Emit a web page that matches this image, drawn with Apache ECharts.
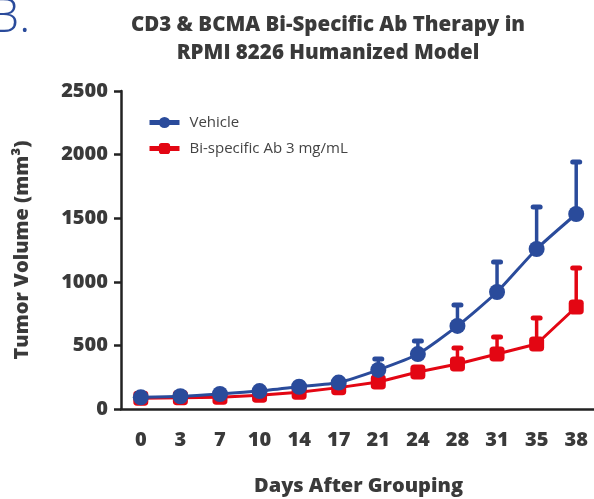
<!DOCTYPE html>
<html><head><meta charset="utf-8">
<script src="https://cdn.jsdelivr.net/npm/echarts@6/dist/echarts.min.js"></script>
<style>html,body{margin:0;padding:0;background:#fff}#c{width:594px;height:499px}</style>
</head><body><div id="c"></div>
<script>
const days = ['0','3','7','10','14','17','21','24','28','31','35','38'];
const vehicleMean = [92, 100, 118, 141, 175, 208, 307, 432, 653, 920, 1258, 1533];
const vehicleTop  = [null, null, null, null, null, null, 393, 535, 818, 1156, 1588, 1942];
const bsabMean = [85, 88, 92, 108, 132, 168, 212, 291, 354, 432, 511, 802];
const bsabTop  = [null, null, null, null, null, null, null, null, 480, 566, 715, 1108];
const yTicks = [0, 500, 1000, 1500, 2000, 2500];

const BLUE = '#2a4b9b', RED = '#e30613', DARK = '#3a3a3a';
const FONT = '"Open Sans", sans-serif';

function errData(mean, top){
  const out = [];
  mean.forEach((m,i)=>{ if(top[i]!=null) out.push([i, m, top[i]]); });
  return out;
}
function errSeries(name, color, data){
  return {
    type:'custom', name: name, z: 3, silent:true,
    data: data,
    renderItem: function(params, api){
      const p0 = api.coord([api.value(0), api.value(1)]);
      const p1 = api.coord([api.value(0), api.value(2)]);
      return {type:'group', children:[
        {type:'line', shape:{x1:p0[0], y1:p0[1], x2:p1[0], y2:p1[1]}, style:{stroke:color, lineWidth:3.5}},
        {type:'rect', shape:{x:p1[0]-6, y:p1[1]-2.5, width:12, height:5, r:2.5}, style:{fill:color}}
      ]};
    }
  };
}

const chart = echarts.init(document.getElementById('c'));
chart.setOption({
  animation:false,
  title:{
    text:'CD3 & BCMA Bi-Specific Ab Therapy in\nRPMI 8226 Humanized Model',
    left:323, top:6, textAlign:'center',
    textStyle:{fontFamily:FONT, fontWeight:800, fontSize:20.5, color:DARK, lineHeight:28}
  },
  graphic:[{type:'text', left:-11, top:-6, style:{text:'B.', font:'300 48px "Open Sans", sans-serif', fill:BLUE}}],
  legend:{
    left:142, top:110, orient:'vertical', itemWidth:30, itemHeight:14, itemGap:11,
    lineStyle:{width:5},
    data:[{name:'Vehicle'},{name:'Bi-specific Ab 3 mg/mL'}],
    textStyle:{fontFamily:FONT, fontSize:15, color:'#444', padding:[0,0,0,5]}
  },
  grid:{left:121, top:91, width:475, height:318, containLabel:false, outerBoundsMode:'none'},
  xAxis:{
    type:'category', data:days, boundaryGap:true,
    name:'Days After Grouping', nameLocation:'middle', nameGap:67,
    nameTextStyle:{fontFamily:FONT, fontWeight:800, fontSize:20, color:DARK},
    axisLine:{lineStyle:{color:'#222', width:2.5}},
    axisTick:{alignWithLabel:true, length:7, lineStyle:{color:'#222', width:2.5}},
    axisLabel:{fontFamily:FONT, fontWeight:800, fontSize:20, color:DARK, margin:21}
  },
  yAxis:{
    type:'value', min:0, max:2500, interval:500,
    name:'Tumor Volume (mm³)', nameLocation:'middle', nameGap:89, nameRotate:90,
    nameTextStyle:{fontFamily:FONT, fontWeight:800, fontSize:20, color:DARK},
    axisLine:{show:true, lineStyle:{color:'#222', width:2.5}},
    axisTick:{show:true, length:7, lineStyle:{color:'#222', width:2.5}},
    splitLine:{show:false},
    axisLabel:{fontFamily:FONT, fontWeight:800, fontSize:20, color:DARK, margin:13,
      formatter: v => yTicks.includes(v) ? String(v) : ''}
  },
  series:[
    errSeries('bsabErr', RED, errData(bsabMean, bsabTop)),
    {name:'Bi-specific Ab 3 mg/mL', type:'line', data:bsabMean, z:4,
      symbol:'roundRect', symbolSize:15, itemStyle:{color:RED},
      lineStyle:{color:RED, width:3}},
    errSeries('vehErr', BLUE, errData(vehicleMean, vehicleTop)),
    {name:'Vehicle', type:'line', data:vehicleMean, z:5, smooth:0.2,
      symbol:'circle', symbolSize:16, itemStyle:{color:BLUE},
      lineStyle:{color:BLUE, width:3}}
  ]
});
</script></body></html>
